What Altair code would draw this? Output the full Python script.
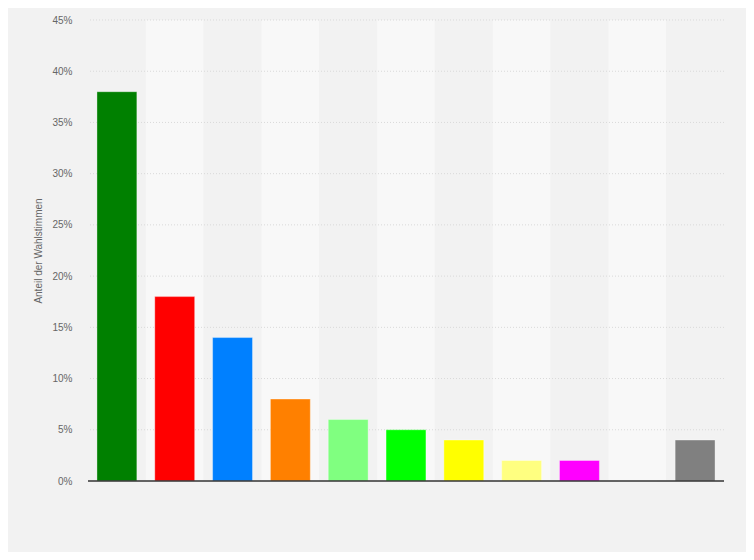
import altair as alt
import pandas as pd

parties = ["Partei A", "Partei B", "Partei C", "Partei D", "Partei E", "Partei F",
           "Partei G", "Partei H", "Partei I", "Partei J", "Sonstige"]
shares = [38, 18, 14, 8, 6, 5, 4, 2, 2, 0, 4]
colors = ["#008000", "#ff0000", "#0080ff", "#ff8000", "#80ff80", "#00ff00",
          "#ffff00", "#ffff80", "#ff00ff", "#cccccc", "#808080"]
band_fill = ["#f2f2f2", "#f8f8f8"]
grid_values = list(range(5, 50, 5))

df = pd.DataFrame({"partei": parties, "anteil": shares, "farbe": colors,
                   "band": [band_fill[i % 2] for i in range(len(parties))]})

W, H = 636, 461
font = "Liberation Sans"
yscale = alt.Scale(domain=[0, 45], nice=False)

base = alt.Chart(df)

bands = base.mark_rect().encode(
    x=alt.X("partei:N", sort=parties, axis=None,
            scale=alt.Scale(paddingInner=0, paddingOuter=0)),
    y=alt.Y(datum=45, scale=yscale),
    y2=alt.Y2(datum=0),
    color=alt.Color("band:N", scale=None),
)

grid = alt.Chart(pd.DataFrame({"g": grid_values})).mark_rule(
    color="#d9d9d9", strokeDash=[1, 2], strokeWidth=1
).encode(y=alt.Y("g:Q", scale=yscale))

bars = base.mark_bar(stroke="white", strokeOpacity=0.35, strokeWidth=1).encode(
    x=alt.X("partei:N", sort=parties, axis=None,
            scale=alt.Scale(paddingInner=0.31, paddingOuter=0.155)),
    y=alt.Y("anteil:Q", scale=yscale,
            axis=alt.Axis(title="Anteil der Wahlstimmen", values=list(range(0, 50, 5)),
                          labelExpr="datum.value + '%'", domain=False, ticks=False,
                          labelPadding=16, labelColor="#666666", labelFontSize=10,
                          labelFont=font, titleFont=font, titleFontSize=10,
                          titleFontWeight="normal", titleColor="#666666", titlePadding=8,
                          grid=False)),
    color=alt.Color("farbe:N", scale=None),
    tooltip=["partei", "anteil"],
)

axis_line = alt.Chart(pd.DataFrame({"v": [0]})).mark_rule(color="#333333", strokeWidth=1.5).encode(
    y=alt.Y("v:Q", scale=yscale)
)

chart = alt.layer(bands, grid, bars, axis_line).resolve_scale(x="independent").properties(
    width=W, height=H,
    background="#f2f2f2",
    padding={"left": 80, "top": 12, "right": 22, "bottom": 71},
    autosize=alt.AutoSizeParams(type="none"),
).configure_view(stroke=None)

chart.save("out.html", embed_options={"renderer": "svg", "actions": False})
